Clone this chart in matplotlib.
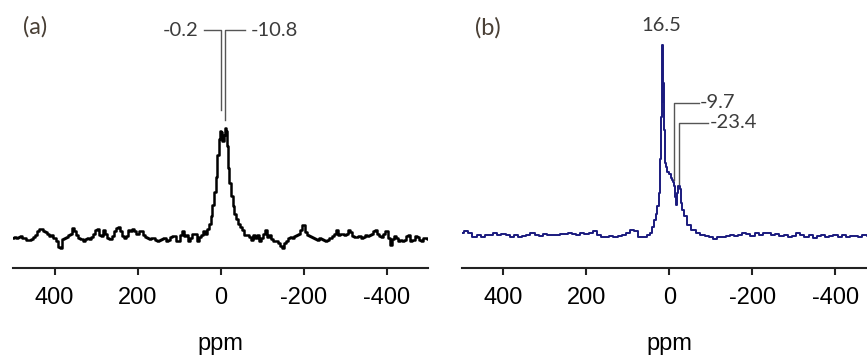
import matplotlib.pyplot as plt

# (a) spectrum, intensity relative to highest peak (=100)
ppm_a = [500, 495, 490, 485, 480, 475, 470, 465, 460, 455, 450, 445, 440, 435, 430,
         425, 420, 415, 410, 405, 400, 395, 390, 385, 380, 375, 370, 365, 360, 355,
         350, 345, 340, 335, 330, 325, 320, 315, 310, 305, 300, 295, 290, 285, 280,
         275, 270, 265, 260, 255, 250, 245, 240, 235, 230, 225, 220, 215, 210, 205,
         200, 195, 190, 185, 180, 175, 170, 165, 160, 155, 150, 145, 140, 135, 130,
         125, 120, 115, 110, 105, 100, 95, 90, 85, 80, 75, 70, 65, 60, 55,
         50, 45, 40, 35, 30, 26, 22, 18, 14, 10, 6, 3, 0, -3, -6,
         -9, -11, -14, -17, -20, -23, -27, -31, -35, -40, -45, -50, -55, -60, -65,
         -70, -75, -80, -85, -90, -95, -100, -105, -110, -115, -120, -125, -130, -135, -140,
         -145, -150, -155, -160, -165, -170, -175, -180, -185, -190, -195, -200, -205, -210, -215,
         -220, -225, -230, -235, -240, -245, -250, -255, -260, -265, -270, -275, -280, -285, -290,
         -295, -300, -305, -310, -315, -320, -325, -330, -335, -340, -345, -350, -355, -360, -365,
         -370, -375, -380, -385, -390, -395, -400, -405, -410, -415, -420, -425, -430, -435, -440,
         -445, -450, -455, -460, -465, -470, -475, -480, -485, -490, -495, -500]
int_a = [0, 1, 0, 1, 2, 0, 0, -2, -2, -1, 1, 3, 6, 8, 8,
         6, 5, 4, 2, 3, 0, -3, -8, -9, -1, 0, 1, 3, 4, 9,
         6, 3, 0, -1, -3, -1, 0, -1, 1, 4, 7, 8, 3, 2, 7,
         4, 0, -1, 2, 6, 9, 10, 6, 2, 0, 2, 7, 6, 8, 6,
         4, 6, 6, 3, 1, 0, -1, 0, 0, -2, -3, -2, -1, 0, -3,
         -2, 1, 2, 2, -3, -3, 3, 6, 2, 3, -3, 0, 4, 4, -3,
         1, 3, 6, 4, 8, 13, 20, 30, 42, 55, 75, 90, 97, 96, 88,
         94, 100, 97, 84, 64, 50, 38, 29, 22, 17, 13, 10, 7, 3, 3,
         1, -2, 3, 0, 3, -3, 0, 4, 7, 1, 3, -1, -3, -3, -5,
         -7, -9, -5, -3, 0, 1, 0, 2, 3, 4, 7, 12, 5, 3, 2,
         1, 0, -1, -2, 0, -1, -2, -3, -2, 0, 2, 4, 7, 3, 4,
         4, 3, 4, 7, 5, 2, 1, 1, 2, 0, 1, 3, 2, 3, 4,
         6, 7, 4, 2, 1, 4, 6, 0, -6, -1, 2, 0, -3, -2, -3,
         -2, 2, 3, -3, -2, 2, 1, -2, -3, 0, 0, -1]

# (b) spectrum
ppm_b = [500, 490, 480, 470, 460, 450, 440, 430, 420, 410, 400, 390, 380, 370, 360,
         350, 340, 330, 320, 310, 300, 290, 280, 270, 260, 250, 240, 230, 220, 210,
         200, 190, 180, 170, 160, 150, 140, 130, 120, 110, 100, 90, 80, 70, 60,
         50, 45, 40, 35, 31, 27, 24, 22, 20, 18.5, 16.5, 15, 14, 12.5, 11,
         9, 7, 3, -1, -4, -7, -10, -12, -14.5, -17.5, -20, -23, -25.5, -28, -32,
         -37, -45, -57, -69, -80, -90, -100, -110, -120, -130, -140, -150, -160, -170, -180,
         -190, -200, -210, -220, -230, -240, -250, -260, -270, -280, -290, -300, -310, -320, -330,
         -340, -350, -360, -370, -380, -390, -400, -410, -420, -430, -440, -450, -460, -470, -480,
         -490, -500]
int_b = [1, 2, 1, -1, 0, -1, 0, 0, 1, 0, 0.5, 0, -1, 0, -1.2,
         -0.5, 0, 1, 0, -0.5, 0.3, 0, 0, 0, 0.3, 0.3, 1, 0.3, 0, 1,
         0.5, 1, 2, 0, -1.2, -1, -0.5, -1, -0.5, 0, 1, 2.6, 2, -1.2, -1,
         0, 1, 4.4, 8, 11, 15, 22, 40, 62, 85, 100, 70, 80, 55, 45,
         38, 36, 33, 32, 30, 29, 28, 26, 20, 16, 22, 26, 24, 17, 13,
         10, 5, 2.6, 1, 0, -0.5, -1.2, -2.3, -1.2, -1.2, -0.5, 0, -0.5, 0, 1,
         0.3, -0.5, 1, 0, 1, 1.2, 0, 0.3, -0.5, 0, -1, -0.5, 1, 0, -1.2,
         0, -1.8, -0.5, 0, -1.2, -0.5, 0, -1, 0, -1, -0.5, -0.5, -1.2, 0, -0.5,
         -1, 0]

ticks = [400, 200, 0, -200, -400]
tick_font = 'Liberation Sans'
note_font = 'Lato'
note_col = '#3c3c3c'

fig = plt.figure(figsize=(8.67, 3.56), dpi=100)
ax_a = fig.add_axes([13 / 867, 0.2472, 415 / 867, 0.7528])
ax_b = fig.add_axes([462 / 867, 0.2472, 415 / 867, 0.7528])

ax_a.plot(ppm_a, int_a, color='black', lw=1.8, drawstyle='steps-mid')
ax_b.plot(ppm_b, int_b, color='#1a1a7e', lw=1.4, drawstyle='steps-mid')
ax_a.set_ylim(-27.3, 216.4)
ax_b.set_ylim(-17.4, 123.7)

for ax in (ax_a, ax_b):
    ax.set_xlim(500, -500)
    for s in ['top', 'left', 'right']:
        ax.spines[s].set_visible(False)
    ax.spines['bottom'].set_linewidth(1.5)
    ax.spines['bottom'].set_color('#222222')
    ax.set_yticks([])
    ax.set_xticks(ticks)
    ax.set_xticklabels([str(t) for t in ticks], fontsize=17, family=tick_font)
    ax.tick_params(axis='x', direction='out', length=5, width=1.5, color='#222222', pad=9)
    ax.set_xlabel('ppm', fontsize=17, family=tick_font, labelpad=17)
    ax.patch.set_alpha(0)

# peak labels (a)
ax_a.plot([39, -0.2, -0.2], [189, 189, 116], color='#555555', lw=1)
ax_a.plot([-60, -10.8, -10.8], [189, 189, 107], color='#555555', lw=1)
ax_a.text(53, 189, '-0.2', ha='right', va='center', fontsize=14.5, family=note_font, color=note_col)
ax_a.text(-74, 189, '-10.8', ha='left', va='center', fontsize=14.5, family=note_font, color=note_col)
ax_a.text(0.024, 0.9, '(a)', transform=ax_a.transAxes, ha='left', va='center',
          fontsize=17, family=note_font, color='#4a4036')

# peak labels (b)
ax_b.text(20, 110.5, '16.5', ha='center', va='center', fontsize=14.5, family=note_font, color=note_col)
ax_b.plot([-70, -9.7, -9.7], [69.5, 69.5, 29], color='#555555', lw=1)
ax_b.plot([-93, -23.4, -23.4], [59, 59, 27], color='#555555', lw=1)
ax_b.text(-73, 69.5, '-9.7', ha='left', va='center', fontsize=14.5, family=note_font, color=note_col)
ax_b.text(-97, 59, '-23.4', ha='left', va='center', fontsize=14.5, family=note_font, color=note_col)
ax_b.text(0.031, 0.895, '(b)', transform=ax_b.transAxes, ha='left', va='center',
          fontsize=17, family=note_font, color='#4a4036')

fig.savefig('out.png', dpi=100)
